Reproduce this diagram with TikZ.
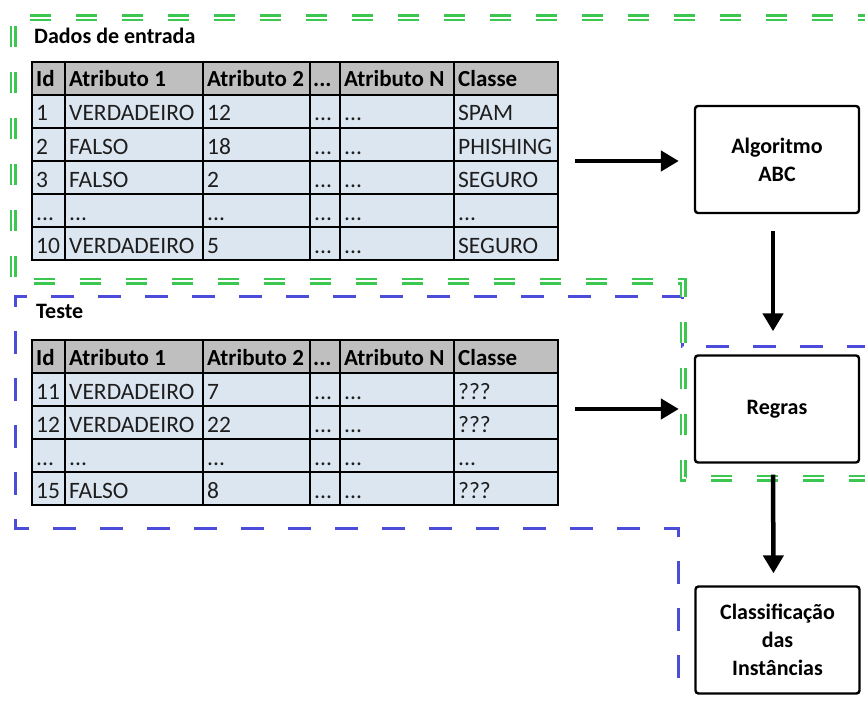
\documentclass[tikz,border=0pt]{standalone}
\usepackage{fontspec}
\setmainfont{Carlito}
\usetikzlibrary{arrows.meta}
\definecolor{hdrgray}{RGB}{191,191,191}
\definecolor{cellblue}{RGB}{220,230,241}
\definecolor{grpgreen}{RGB}{60,200,80}
\definecolor{grpblue}{RGB}{76,76,218}
\definecolor{celltext}{RGB}{30,30,30}
% three full stops, kept as a macro so \foreach does not read them as a range
\newcommand{\tdots}{...}
\begin{document}
\begin{tikzpicture}[x=1pt,y=-1pt,
  gridline/.style={line width=2.4pt, black},
  celltxt/.style={anchor=base west, inner sep=0pt, text=celltext, font=\fontsize{23.5}{28}\selectfont},
  hcelltxt/.style={anchor=base west, inner sep=0pt, text=black, font=\fontsize{23}{28}\selectfont\bfseries},
  grouptitle/.style={anchor=base west, inner sep=0pt, font=\fontsize{22}{27}\selectfont\bfseries},
  stepbox/.style={draw, line width=2.4pt, rounded corners=3pt, minimum width=164pt, minimum height=107pt,
    align=center, inner sep=0pt, font=\fontsize{22}{28}\selectfont\bfseries},
  flowarrow/.style={line width=4.5pt, -{Triangle[length=18pt,width=20pt]}},
  greenzone/.style={grpgreen, line width=2.5pt, double=white, double distance=2pt, dash pattern=on 21pt off 25pt},
  bluezone/.style={grpblue, line width=3pt, dash pattern=on 23pt off 24pt},
  tablearea/.style={inner sep=0pt, minimum width=526pt},
]
\useasboundingbox (0,0) rectangle (865,701);
\clip (0,0) rectangle (865,701);

% ---------- group outlines ----------
\draw[bluezone] (870,346) -- (682,346) -- (682,296) -- (15,296) -- (15,528) -- (678,528) -- (678,706);
\draw[greenzone] (870,478) -- (683,478) -- (683,281) -- (13,281) -- (13,18) -- (870,18);

% ---------- input data table ----------
\node[grouptitle] (dadostitle) at (34,44) {Dados de entrada};
\fill[hdrgray] (32,62) rectangle (558,95);
\fill[cellblue] (32,95) rectangle (558,260);
\foreach \y in {95,128,161,194,227} \draw[gridline] (32,\y) -- (558,\y);
\foreach \x in {65,203,310,340,454} \draw[gridline] (\x,62) -- (\x,260);
\draw[gridline] (32,62) rectangle (558,260);
\node[tablearea, minimum height=198pt] (dados) at (295,161) {};
\foreach \x/\t [count=\i] in {36/Id, 69/Atributo 1, 207/Atributo 2, 313/\tdots, 344/Atributo N, 458/Classe}
  \node[hcelltxt] (dh\i) at (\x,87) {\t};
\foreach \a/\b/\c/\d/\e/\f [count=\r] in {
    1/VERDADEIRO/12/\tdots/\tdots/SPAM,
    2/FALSO/18/\tdots/\tdots/PHISHING,
    3/FALSO/2/\tdots/\tdots/SEGURO,
    \tdots/\tdots/\tdots/\tdots/\tdots/\tdots,
    10/VERDADEIRO/5/\tdots/\tdots/SEGURO}{
  \node[celltxt] (d\r a) at (36,{121+33*(\r-1)}) {\a};
  \node[celltxt] (d\r b) at (69,{121+33*(\r-1)}) {\b};
  \node[celltxt] (d\r c) at (207,{121+33*(\r-1)}) {\c};
  \node[celltxt] (d\r d) at (314,{121+33*(\r-1)}) {\d};
  \node[celltxt] (d\r e) at (344,{121+33*(\r-1)}) {\e};
  \node[celltxt] (d\r f) at (458,{121+33*(\r-1)}) {\f};
}

% ---------- test table ----------
\node[grouptitle] (testetitle) at (36,318) {Teste};
\fill[hdrgray] (32,340) rectangle (558,373);
\fill[cellblue] (32,373) rectangle (558,505);
\foreach \y in {373,406,439,472} \draw[gridline] (32,\y) -- (558,\y);
\foreach \x in {65,203,310,340,454} \draw[gridline] (\x,340) -- (\x,505);
\draw[gridline] (32,340) rectangle (558,505);
\node[tablearea, minimum height=165pt] (teste) at (295,422.5) {};
\foreach \x/\t [count=\i] in {36/Id, 69/Atributo 1, 207/Atributo 2, 313/\tdots, 344/Atributo N, 458/Classe}
  \node[hcelltxt] (th\i) at (\x,365) {\t};
\foreach \a/\b/\c/\d/\e/\f [count=\r] in {
    11/VERDADEIRO/7/\tdots/\tdots/???,
    12/VERDADEIRO/22/\tdots/\tdots/???,
    \tdots/\tdots/\tdots/\tdots/\tdots/\tdots,
    15/FALSO/8/\tdots/\tdots/???}{
  \node[celltxt] (t\r a) at (36,{399+33*(\r-1)}) {\a};
  \node[celltxt] (t\r b) at (69,{399+33*(\r-1)}) {\b};
  \node[celltxt] (t\r c) at (207,{399+33*(\r-1)}) {\c};
  \node[celltxt] (t\r d) at (314,{399+33*(\r-1)}) {\d};
  \node[celltxt] (t\r e) at (344,{399+33*(\r-1)}) {\e};
  \node[celltxt] (t\r f) at (458,{399+33*(\r-1)}) {\f};
}

% ---------- process boxes ----------
\node[stepbox] (algo) at (777,159.5) {Algoritmo\\ABC};
\node[stepbox] (regras) at (777,409) {Regras};
\node[stepbox] (classif) at (777.5,640) {Classificação\\das\\Instâncias};

% ---------- flow ----------
\draw[flowarrow, shorten <=17pt, shorten >=15pt] (dados.east) -- (dados.east -| algo.west);
\draw[flowarrow, shorten <=17pt, shorten >=15pt] (regras.west -| teste.east) -- (regras.west);
\draw[flowarrow, shorten <=17pt, shorten >=23pt] ([xshift=-4pt]algo.south) -- ([xshift=-4pt]regras.north);
\draw[flowarrow, shorten <=11pt, shorten >=12pt] ([xshift=-4pt]regras.south) -- ([xshift=-4pt]classif.north);
\end{tikzpicture}
\end{document}
